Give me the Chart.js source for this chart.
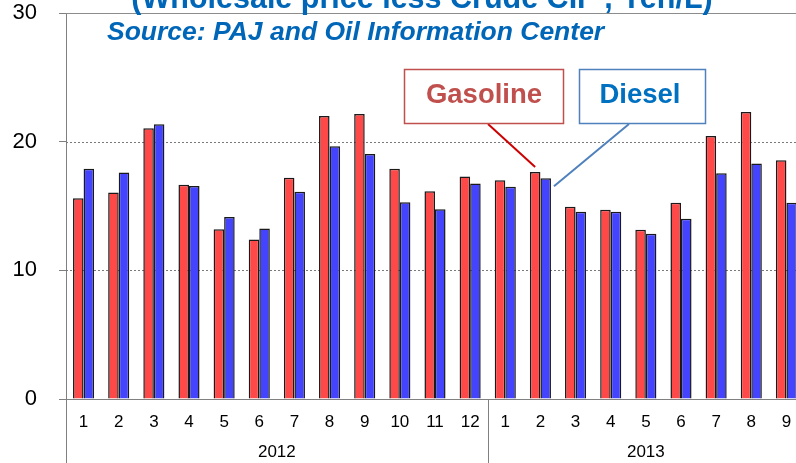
<!DOCTYPE html>
<html lang="en">
<head>
<meta charset="UTF-8">
<title>Gasoline and diesel margin</title>
<script src="https://cdn.jsdelivr.net/npm/chart.js@4.4.1/dist/chart.umd.min.js"></script>
<style>
  html, body { margin: 0; padding: 0; overflow: hidden; background: #fff; }
  #wrap { width: 805px; height: 463px; }
</style>
</head>
<body>
<div id="wrap"><canvas id="margin" width="805" height="463"></canvas></div>
<script>
  // data (Yen/L)
  const months = ['1','2','3','4','5','6','7','8','9','10','11','12','1','2','3','4','5','6','7','8','9'];
  const years = ['2012', '2013'];
  const monthsPerYear = [12, 9];
  const gasoline = [15.6, 16.05, 21.05, 16.65, 13.2, 12.4, 17.2, 22.0, 22.15, 17.9, 16.15, 17.3,
                    17.0, 17.65, 14.95, 14.7, 13.15, 15.25, 20.45, 22.3, 18.55];
  const diesel = [17.9, 17.6, 21.35, 16.55, 14.15, 13.25, 16.1, 19.65, 19.05, 15.3, 14.75, 16.75,
                  16.5, 17.15, 14.55, 14.55, 12.85, 14.0, 17.55, 18.3, 15.25];
  const yTicks = [0, 10, 20, 30];

  const FONT = '"Liberation Sans", Arial, sans-serif';

  const decor = {
    id: 'decor',
    beforeDatasetsDraw(chart) {
      const ctx = chart.ctx, a = chart.chartArea, y = chart.scales.y;
      ctx.save();
      // dotted grid at 10 and 20
      ctx.strokeStyle = '#7a7a7a';
      ctx.lineWidth = 1;
      ctx.setLineDash([2, 2]);
      [10, 20].forEach(v => {
        const py = Math.round(y.getPixelForValue(v)) + 0.5;
        ctx.beginPath(); ctx.moveTo(a.left, py); ctx.lineTo(a.right, py); ctx.stroke();
      });
      ctx.setLineDash([]);
      // solid top line
      ctx.strokeStyle = '#8c8c8c';
      const top = Math.round(y.getPixelForValue(30)) + 0.5;
      ctx.beginPath(); ctx.moveTo(a.left, top); ctx.lineTo(a.right, top); ctx.stroke();
      ctx.restore();
    },
    afterDraw(chart) {
      const ctx = chart.ctx, a = chart.chartArea, x = chart.scales.x;
      const H = chart.height;
      ctx.save();
      // axis line down into the year band and the year separators
      ctx.strokeStyle = '#808080';
      ctx.lineWidth = 1;
      let idx = 0;
      const bounds = [a.left];
      const half = (x.getPixelForValue(1) - x.getPixelForValue(0)) / 2;
      monthsPerYear.forEach(n => {
        idx += n;
        bounds.push(x.getPixelForValue(idx - 1) + half);
      });
      bounds.slice(0, -1).forEach(bx => {
        const px = Math.round(bx) + 0.5;
        ctx.beginPath(); ctx.moveTo(px, a.bottom); ctx.lineTo(px, H); ctx.stroke();
      });
      // year labels
      ctx.fillStyle = '#000';
      ctx.font = '17px ' + FONT;
      ctx.textAlign = 'center';
      ctx.textBaseline = 'middle';
      years.forEach((yr, i) => {
        ctx.fillText(yr, (bounds[i] + Math.min(bounds[i + 1], a.right)) / 2, 452);
      });

      // title (cut at top) and source line
      ctx.fillStyle = '#0066b8';
      ctx.textBaseline = 'alphabetic';
      ctx.font = 'bold 30.5px ' + FONT;
      ctx.fillText('(Wholesale price less Crude CIF , Yen/L)', 422, 8);
      ctx.textAlign = 'left';
      ctx.font = 'italic bold 26.5px ' + FONT;
      ctx.fillText('Source: PAJ and Oil Information Center', 107, 40);

      // callout boxes
      const gBar = chart.getDatasetMeta(0).data[13];
      const dBar = chart.getDatasetMeta(1).data[13];
      ctx.lineWidth = 2;
      ctx.strokeStyle = '#cc0000';
      ctx.beginPath(); ctx.moveTo(488, 124); ctx.lineTo(gBar.x, gBar.y - 5); ctx.stroke();
      ctx.strokeStyle = '#4f81bd';
      ctx.beginPath(); ctx.moveTo(629, 124); ctx.lineTo(dBar.x + dBar.width / 2 + 3, dBar.y + 8); ctx.stroke();

      ctx.fillStyle = '#fff';
      ctx.fillRect(404, 69, 159, 54);
      ctx.fillRect(579, 69, 126, 54);
      ctx.lineWidth = 1.5;
      ctx.strokeStyle = '#c0504d';
      ctx.strokeRect(404.5, 69.5, 159, 54);
      ctx.strokeStyle = '#4f81bd';
      ctx.strokeRect(579.5, 69.5, 126, 54);

      ctx.font = 'bold 27.5px ' + FONT;
      ctx.textAlign = 'center';
      ctx.fillStyle = '#c0504d';
      ctx.fillText('Gasoline', 484, 103);
      ctx.fillStyle = '#0070c0';
      ctx.fillText('Diesel', 640, 103);
      ctx.restore();
    }
  };

  new Chart(document.getElementById('margin'), {
    type: 'bar',
    data: {
      labels: months,
      datasets: [
        { label: 'Gasoline', data: gasoline, backgroundColor: '#ff4848', borderColor: '#1a1a1a', borderWidth: 1.5 },
        { label: 'Diesel', data: diesel, backgroundColor: '#4444ff', borderColor: '#1a1a1a', borderWidth: 1.5 }
      ]
    },
    options: {
      responsive: false,
      animation: false,
      devicePixelRatio: 1,
      layout: { padding: { top: 0, right: 1, left: 0, bottom: 0 } },
      datasets: { bar: { categoryPercentage: 0.6, barPercentage: 1.0 } },
      plugins: { legend: { display: false }, tooltip: { enabled: false }, title: { display: false } },
      scales: {
        x: {
          grid: { display: false },
          border: { display: true, color: '#808080', width: 1 },
          ticks: { color: '#000', font: { family: FONT, size: 17 }, padding: 5, maxRotation: 0, autoSkip: false },
          afterFit(scale) { scale.height = 64; }
        },
        y: {
          min: 0, max: 30,
          afterBuildTicks(scale) { scale.ticks = yTicks.map(v => ({ value: v })); },
          grid: { drawOnChartArea: false, drawTicks: true, tickLength: 7, color: '#808080' },
          border: { display: true, color: '#808080', width: 1 },
          ticks: { color: '#000', font: { family: FONT, size: 22 }, padding: 22 },
          afterFit(scale) { scale.width = 66; scale.paddingTop = 13; scale.paddingBottom = 0; }
        }
      }
    },
    plugins: [decor]
  });
</script>
</body>
</html>
